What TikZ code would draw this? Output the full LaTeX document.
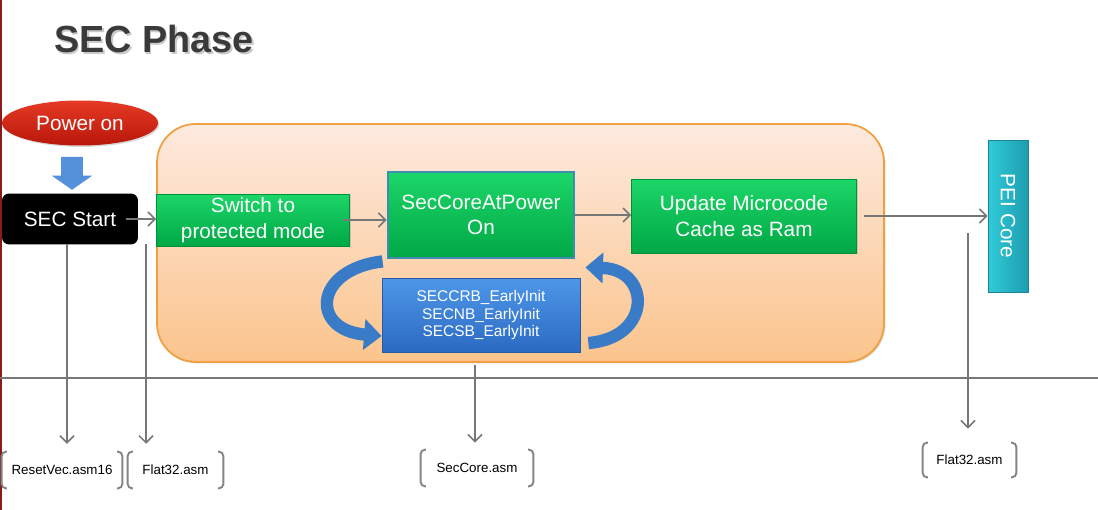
\documentclass[tikz,border=0pt]{standalone}
\usepackage{fontspec}
\setmainfont{Liberation Sans}
\usepackage{tikz}
\usetikzlibrary{shapes.geometric,shapes.arrows,positioning,arrows.meta,shadows}
\definecolor{slidered}{HTML}{8B1A1A}
\definecolor{titlegray}{HTML}{3A3A3A}
\definecolor{redtop}{HTML}{E63A24}
\definecolor{redbot}{HTML}{B8170B}
\definecolor{greentop}{HTML}{1CD668}
\definecolor{greenbot}{HTML}{00A845}
\definecolor{coreedge}{HTML}{3D8DB0}
\definecolor{bluetop}{HTML}{4E97E8}
\definecolor{bluebot}{HTML}{2B6AC2}
\definecolor{bandblue}{HTML}{3A7BC8}
\definecolor{peitop}{HTML}{30CAD8}
\definecolor{peibot}{HTML}{1E9DB0}
\definecolor{phasetop}{HTML}{FDEADF}
\definecolor{phasebot}{HTML}{FBC48C}
\definecolor{phaseedge}{HTML}{F0A040}
\definecolor{flowgray}{HTML}{777777}
\definecolor{arrowblue}{HTML}{5590DA}
\tikzset{softshadow/.style = {drop shadow={opacity=.3, shadow xshift=.8pt, shadow yshift=-.8pt}}}
\tikzset{flowbox/.style = {minimum height=1.04cm, text centered, align=center, text=white, font=\fontsize{11.8}{14.4}\selectfont, inner sep=2pt, top color=greentop, bottom color=greenbot, draw=greenbot!85!black, line width=.4pt, softshadow}}
\tikzset{arrow/.style={draw=flowgray, line width=.9pt, -{Straight Barb[length=4pt,width=8pt]}}}
\tikzset{asmfile/.style = {minimum height=0.72cm, inner sep=0pt, font=\fontsize{7.6}{9}\selectfont}}

\begin{document}
\begin{tikzpicture}[x=0.02cm,y=-0.02cm]
	\tikzstyle{bracket}=[draw=flowgray!90,line width=1.1pt,rounded corners=2.5pt]
	\tikzstyle{titletext}=[anchor=base west,inner sep=0pt,font=\fontsize{21.5}{25}\selectfont\bfseries]
	\tikzstyle{loopband}=[draw=bandblue,line width=7pt,-{Triangle[length=10pt,width=17pt]}]
	\useasboundingbox[fill=white] (0,0) rectangle (1098,510);
	\draw[slidered,line width=1.2pt] (0.6,0) -- (0.6,510);
	% title
	\node[titletext,text=black!35,opacity=.6] at (55.5,55) {SEC Phase};
	\node[titletext,text=titlegray] (title) at (54,53) {SEC Phase};
	% SEC phase area
	\draw[phaseedge,line width=1pt,top color=phasetop,bottom color=phasebot,rounded corners=22pt,softshadow] (157,124) rectangle (884,362);
	\node[ellipse,minimum width=3.12cm,minimum height=0.9cm,top color=redtop,bottom color=redbot,text=white,font=\fontsize{11.8}{14.2}\selectfont,softshadow] (power) at (80,123) {Power on};
	\node[single arrow,fill=arrowblue,minimum height=0.66cm,single arrow head extend=0.19cm,single arrow tip angle=110,inner xsep=0pt,inner ysep=0.21cm,rotate=-90] (powerarrow) at (72,169.5) {};
	\node[fill=black,rounded corners=4pt,minimum width=2.72cm,minimum height=1.02cm,text=white,font=\fontsize{11.8}{14.2}\selectfont] (start) at (70,219) {SEC Start};
	\node[flowbox,minimum width=3.86cm] (switch) at (253,220) {Switch to\\protected mode};
	\node[flowbox,minimum width=3.72cm,minimum height=1.72cm,draw=coreedge,line width=1.6pt] (core) at (481,215) {SecCoreAtPower\\On};
	\node[flowbox,minimum width=4.5cm,minimum height=1.48cm] (ucode) at (744,216) {Update Microcode\\Cache as Ram};
	\node[flowbox,minimum width=3.04cm,minimum height=0.8cm,left color=peitop,right color=peibot,draw=peibot!85!black,rotate=-90] (pei) at (1008,216) {PEI Core};
	\node[flowbox,minimum width=3.96cm,minimum height=1.48cm,top color=bluetop,bottom color=bluebot,draw=bluebot!85!black,font=\fontsize{8.8}{9.7}\selectfont] (init) at (481,315) {SECCRB\_EarlyInit\\SECNB\_EarlyInit\\SECSB\_EarlyInit};
	% flow
	\draw[arrow] ([xshift=-0.24cm]start.east) -- (start.east -| switch.west);
	\draw[arrow] ([xshift=-0.14cm]switch.east) -- (switch.east -| core.west);
	\draw[arrow] (core.east) -- (core.east -| ucode.west);
	\draw[arrow] ([xshift=0.14cm]ucode.east) -- (ucode.east -| pei.south);
	\draw[loopband] ([xshift=-0.08cm,yshift=-0.04cm]core.south west) .. controls +(-69,8) and +(-72,-6) .. ([yshift=-0.42cm]init.west);
	\draw[loopband] ([xshift=0.16cm,yshift=-0.56cm]init.east) .. controls +(64,-5) and +(66,2) .. ([xshift=0.2cm,yshift=-0.16cm]core.south east);
	\draw[flowgray,line width=1pt] (0,378) -- (1098,378);
	% source files
	\node[asmfile,minimum width=2.4cm] (rv) at (62,470) {ResetVec.asm16};
	\node[asmfile,minimum width=1.9cm] (flat) at (175.5,470) {Flat32.asm};
	\node[asmfile,minimum width=2.24cm] (seccore) at (477,468) {SecCore.asm};
	\node[asmfile,minimum width=1.86cm,minimum height=0.68cm] (flatpei) at (969.5,460) {Flat32.asm};
	\foreach \f in {rv,flat,seccore,flatpei} {
		\draw[bracket] ([xshift=3pt]\f.north west) -- (\f.north west) -- (\f.south west) -- ([xshift=3pt]\f.south west);
		\draw[bracket] ([xshift=-3pt]\f.north east) -- (\f.north east) -- (\f.south east) -- ([xshift=-3pt]\f.south east);
	}
	\coordinate (resetfrom) at (67,244);
	\coordinate (flatfrom) at (146,244);
	\coordinate (corefrom) at (475,365);
	\coordinate (peifrom) at (968,233);
	\draw[arrow,shorten >=4.5pt] (resetfrom) -- (resetfrom |- rv.north);
	\draw[arrow,shorten >=4.5pt] (flatfrom) -- (flatfrom |- flat.north);
	\draw[arrow,shorten >=4pt] (corefrom) -- (corefrom |- seccore.north);
	\draw[arrow,shorten >=8pt] (peifrom) -- (peifrom |- flatpei.north);
\end{tikzpicture}
\end{document}
